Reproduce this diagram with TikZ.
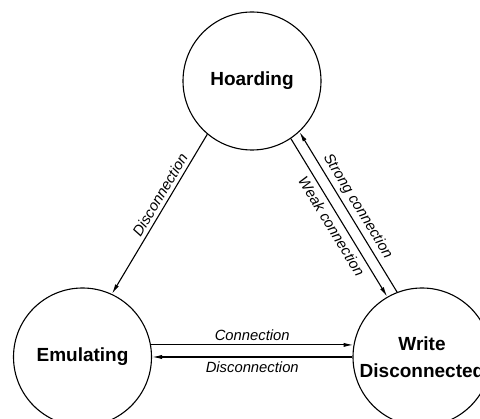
\documentclass[tikz,border=0pt]{standalone}
\usepackage{fontspec}
\setmainfont{Liberation Sans}
\usetikzlibrary{arrows.meta}
\begin{document}
\begin{tikzpicture}[x=1pt,y=-1pt,
  state/.style={circle,draw,line width=1.1pt,minimum size=138pt,inner sep=0pt,
    align=center,font=\fontsize{19}{27}\selectfont\bfseries},
  trans/.style={draw,line width=1.1pt,-{Latex[length=10pt,width=4.2pt]}},
  lab/.style={font=\fontsize{14.8}{17}\selectfont\itshape,inner sep=2.5pt,sloped}]
\useasboundingbox (0,0) rectangle (480,419);
\node[state] (H) at (252,81) {Hoarding};
\node[state] (E) at (82.5,357) {Emulating};
\node[state] (W) at (422,357) {Write\\Disconnected};
\draw[trans] (H.230) -- node[lab,above,pos=0.41,inner sep=3.5pt] {Disconnection} (E.65);
\draw[trans] (H.304) -- node[lab,below,pos=0.52,inner sep=5pt] {Weak connection} (W.120);
\draw[trans] (W.111) -- node[lab,above,pos=0.5,inner sep=3.5pt] {Strong connection} (H.313);
\draw[trans] (E.10) -- node[lab,above,inner sep=4pt] {Connection} (W.170);
\draw[trans] (W.180.4) -- node[lab,below,inner sep=4.5pt] {Disconnection} (E.0.4);
\end{tikzpicture}
\end{document}
